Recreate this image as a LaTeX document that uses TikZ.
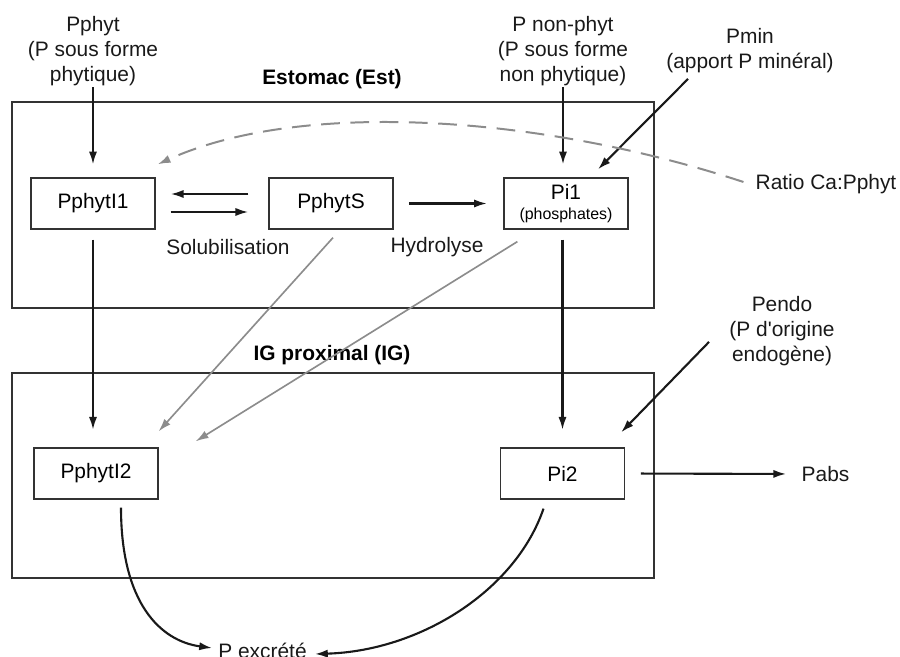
\documentclass[tikz,border=0pt]{standalone}
\usepackage{fontspec}
\setmainfont{Liberation Sans}
\usetikzlibrary{arrows.meta,calc}

\begin{document}
\begin{tikzpicture}[x=0.03cm,y=-0.03cm]
\tikzstyle{box}=[draw=black!80,line width=1.1pt,minimum width=3.72cm,minimum height=1.53cm,inner sep=0pt,align=center,font=\fontsize{17.85}{21.3}\selectfont]
\tikzstyle{txt}=[inner sep=0pt,align=center,text=black!90,font=\fontsize{17.85}{21.3}\selectfont]
\tikzstyle{titre}=[inner sep=0pt,font=\fontsize{17.85}{21.3}\selectfont\bfseries]
\tikzstyle{fl}=[-{Latex[length=11pt,width=7pt]},line width=1.8pt,black!90]
\tikzstyle{flgris}=[-{Latex[length=11pt,width=7pt]},line width=1.4pt,black!45]
\useasboundingbox (0,0) rectangle (900,657);
% compartiments
\draw[line width=1.1pt,black!80] (12,102) rectangle (654,308);
\draw[line width=1.1pt,black!80] (12,373) rectangle (654,578);
\node[titre] (est) at (332,79) {Estomac (Est)};
\node[titre] (ig) at (332,355) {IG proximal (IG)};
% pools
\node[box] (i1) at (93,203.5) {PphytI1};
\node[box] (s) at (331,203.5) {PphytS};
\node[box] (pi1) at (566,203.5) {Pi1\\[-4pt]{\fontsize{13.6}{15}\selectfont(phosphates)}};
\node[box] (i2) at (96,473.5) {PphytI2};
\node[box] (pi2) at (562.5,473.5) {Pi2};
% entrees / sorties
\node[txt] (pphyt) at (93,51) {Pphyt\\(P sous forme\\phytique)};
\node[txt] (pnp) at (563,51) {P non-phyt\\(P sous forme\\non phytique)};
\node[txt] (pmin) at (750,50.5) {Pmin\\(apport P minéral)};
\node[txt] (ratio) at (826,184) {Ratio Ca:Pphyt};
\node[txt] (pendo) at (782,331) {Pendo\\(P d\textquotesingle origine\\endogène)};
\node[txt] (pabs) at (825.5,474) {Pabs};
\node[txt,anchor=base] (pexc) at (262.5,658) {P excrété};
\node[txt] (sol) at (228,247) {Solubilisation};
\node[txt] (hyd) at (437,247) {Hydrolyse};
% fleches
\draw[fl,shorten <=1pt,shorten >=11pt] (pphyt.south) -- (i1.north);
\draw[fl,shorten <=1pt,shorten >=11pt] (pnp.south) -- (pnp.south |- pi1.north);
\draw[fl] ($(pmin.south)+(-62,6)$) -- ($(pi1.north)+(32,-8)$);
\draw[fl] ($(s.west)+(-20,-9.5)$) -- ($(i1.east)+(15,-9.5)$);
\draw[fl] ($(i1.east)+(15,8.5)$) -- ($(s.west)+(-20,8.5)$);
\draw[fl,shorten <=13pt,shorten >=14pt] (s.east) -- (pi1.west);
\draw[fl,shorten <=8.5pt,shorten >=15pt] (i1.south) -- (i1.south |- i2.north);
\draw[fl,shorten <=8.5pt,shorten >=15pt] (pi1.south -| pi2.north) -- (pi2.north);
\draw[flgris] ($(s.south)+(2,8)$) -- ($(i2.north east)+(0,-16)$);
\draw[flgris] ($(pi1.south west)+(14,12)$) -- ($(i2.north east)+(37,-6)$);
\draw[line width=1.7pt,black!45,dash pattern=on 16pt off 9pt,-{Latex[length=11pt,width=7pt]}]
  ($(ratio.west)+(-12,-2)$) .. controls +(-203,-67) and +(143,-65) .. ($(i1.north east)+(2,-13)$);
\draw[fl] ($(pendo.south)+(-73,-24)$) -- ($(pi2.north east)+(-4,-15)$);
\draw[fl,shorten <=13.5pt,shorten >=13pt] (pi2.east) -- (pabs.west);
\draw[fl] ($(i2.south)+(25,8)$) .. controls +(0,95) and +(-52,-7) .. ($(pexc.base west)+(-6,-10)$);
\draw[fl] ($(pi2.south)+(-19,9)$) .. controls +(-28,82) and +(105,-3) .. ($(pexc.base east)+(8,-4)$);
\end{tikzpicture}
\end{document}
